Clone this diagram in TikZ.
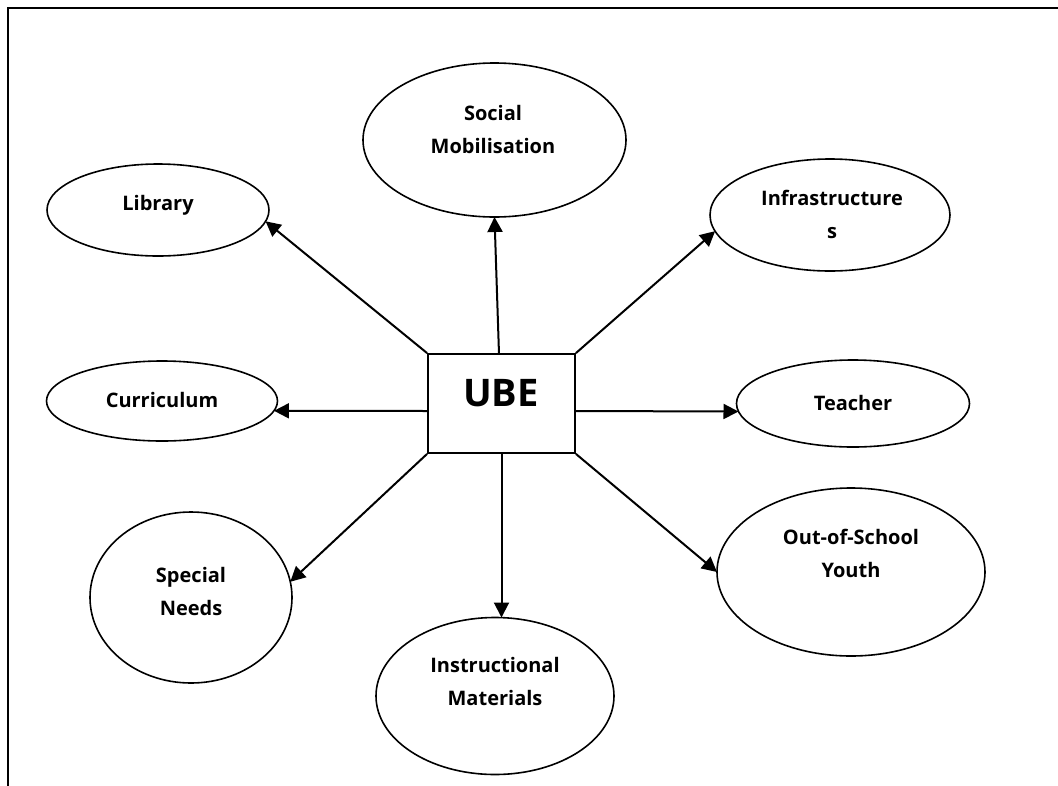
\documentclass[tikz,border=0pt]{standalone}
\usepackage{fontspec}
\setmainfont{Open Sans}
\usetikzlibrary{shapes.geometric,arrows.meta}
\begin{document}
\begin{tikzpicture}[x=1pt,y=-1pt,
  ell/.style={ellipse,draw,line width=1.6pt,inner sep=0pt,outer sep=0pt},
  lbl/.style={font=\fontsize{20}{33}\selectfont\bfseries,align=center,anchor=base,inner sep=0pt},
  arr/.style={line width=2pt,-{Triangle[length=15pt,width=15pt]}}]
\useasboundingbox (0,0) rectangle (1058,785);
\draw[line width=2.6pt] (8,786) -- (8,8) -- (1059,8);
% centre box
\node[draw,line width=1.8pt,minimum width=147pt,minimum height=99pt,inner sep=0pt] (ube) at (501.5,403.5) {};
\node[font=\fontsize{38}{40}\selectfont\bfseries,anchor=base,inner sep=0pt] (ubet) at (501,406) {UBE};
% ellipses
\node[ell,minimum width=263pt,minimum height=154pt] (soc) at (494.5,140) {};
\node[ell,minimum width=222pt,minimum height=92pt] (lib) at (158,210) {};
\node[ell,minimum width=240pt,minimum height=112pt] (inf) at (830,215) {};
\node[ell,minimum width=231pt,minimum height=80pt] (cur) at (162,401) {};
\node[ell,minimum width=233pt,minimum height=87pt] (tea) at (853,403.5) {};
\node[ell,minimum width=202pt,minimum height=171pt] (spn) at (191,597.5) {};
\node[ell,minimum width=238pt,minimum height=157pt] (ins) at (495,696) {};
\node[ell,minimum width=268pt,minimum height=168pt] (oos) at (851,572) {};
% labels (anchor=base is the baseline of the last line)
\node[lbl] (soct) at (493,153) {Social\\Mobilisation};
\node[lbl] (libt) at (158,210) {Library};
\node[lbl] (inft) at (832,238) {Infrastructure\\s};
\node[lbl] (curt) at (162,407) {Curriculum};
\node[lbl] (teat) at (853,410) {Teacher};
\node[lbl] (spnt) at (191,615) {Special\\Needs};
\node[lbl] (inst) at (495,705) {Instructional\\Materials};
\node[lbl] (oost) at (851,577) {Out-of-School\\Youth};
% connector start points
\coordinate (uw) at (428,411);
\coordinate (ue) at (575,411);
\coordinate (un) at (499,354);
% arrows
\draw[arr] (un) -- (soc.south);
\draw[arr] (ube.north west) -- (lib.-6);
\draw[arr] (ube.north east) -- (inf.188);
\draw[arr] (uw) -- (cur.-5);
\draw[arr] (ue) -- (tea.184);
\draw[arr] (ube.south west) -- (spn.9);
\draw[arr] (ube.south) -- (ube.south |- ins.north);
\draw[arr] (ube.south east) -- (oos.west);
\end{tikzpicture}
\end{document}
